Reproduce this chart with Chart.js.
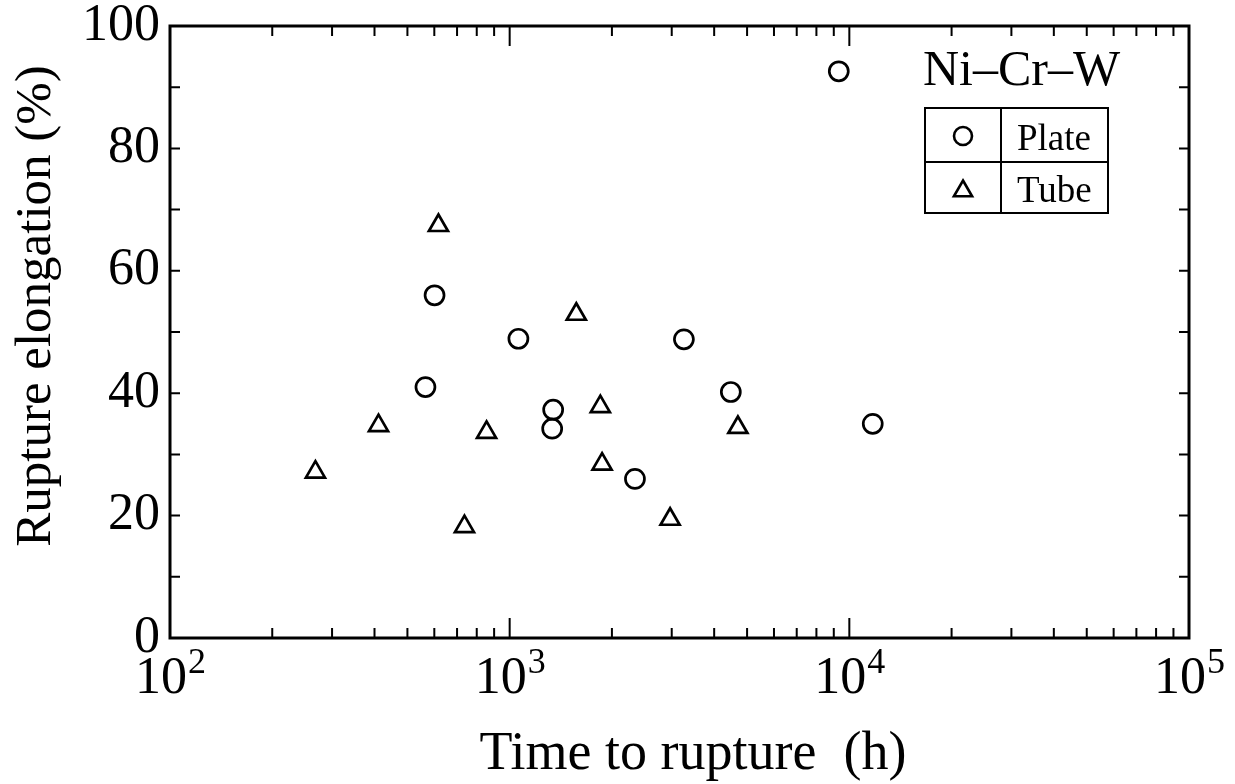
<!DOCTYPE html>
<html>
<head>
<meta charset="utf-8">
<script src="https://cdn.jsdelivr.net/npm/chart.js@4.4.1/dist/chart.umd.min.js"></script>
<style>
html,body{margin:0;padding:0;background:#fff;}
#wrap{width:1235px;height:784px;position:relative;}
</style>
</head>
<body>
<div id="wrap"><canvas id="c" width="1235" height="784"></canvas></div>
<script>
// ---- data ----
const plateTime  = [9310, 601, 565, 1061, 1343, 1334, 3258, 4478, 2338, 11720];
const plateElong = [92.6, 56.0, 41.0, 48.9, 37.3, 34.2, 48.8, 40.2, 26.0, 35.0];
const tubeTime   = [617, 1571, 1849, 411, 855, 1871, 268, 736, 2967, 4698];
const tubeElong  = [67.4, 52.9, 37.8, 34.7, 33.6, 28.4, 27.1, 18.2, 19.4, 34.4];
const xDecades   = [100, 1000, 10000, 100000];
const xExponents = ['2', '3', '4', '5'];
const yTicks     = [0, 20, 40, 60, 80, 100];
const seriesNames = ['Plate', 'Tube'];
const panelTitle = 'Ni\u2013Cr\u2013W';
const xTitle = 'Time to rupture  (h)';
const yTitle = 'Rupture elongation (%)';

const SERIF = '"Liberation Serif", "Times New Roman", serif';

const toPts = (xs, ys) => xs.map((x, i) => ({x: x, y: ys[i]}));

function zeroPad(s) { s.paddingTop = 0; s.paddingBottom = 0; s.paddingLeft = 0; s.paddingRight = 0; }

const decor = {
  id: 'decor',
  afterDraw(chart) {
    const ctx = chart.ctx;
    const a = chart.chartArea;
    const xs = chart.scales.x, ys = chart.scales.y;
    ctx.save();
    ctx.strokeStyle = '#000';
    ctx.fillStyle = '#000';
    // inward ticks
    ctx.lineWidth = 2;
    ctx.beginPath();
    for (let v = 10; v < 100; v += 10) {
      const py = ys.getPixelForValue(v);
      ctx.moveTo(a.left, py); ctx.lineTo(a.left + 10, py);
      ctx.moveTo(a.right, py); ctx.lineTo(a.right - 10, py);
    }
    for (let d = 0; d < xDecades.length - 1; d++) {
      for (let m = 1; m <= 9; m++) {
        const v = xDecades[d] * m;
        if (v === xDecades[0]) continue;
        const px = xs.getPixelForValue(v);
        const len = (m === 1) ? 20 : 10;
        ctx.moveTo(px, a.bottom); ctx.lineTo(px, a.bottom - len);
        ctx.moveTo(px, a.top); ctx.lineTo(px, a.top + len);
      }
    }
    ctx.stroke();
    // frame
    ctx.lineWidth = 3;
    ctx.strokeRect(a.left, a.top, a.right - a.left, a.bottom - a.top);

    // x tick labels 10^n
    const baseFont = '52px ' + SERIF, expFont = '36px ' + SERIF;
    xDecades.forEach((v, i) => {
      const px = xs.getPixelForValue(v);
      ctx.font = baseFont;
      const w1 = ctx.measureText('10').width;
      ctx.font = expFont;
      const w2 = ctx.measureText(xExponents[i]).width;
      const left = px - (w1 + w2) / 2;
      ctx.textAlign = 'left';
      ctx.textBaseline = 'alphabetic';
      ctx.font = baseFont;
      ctx.fillText('10', left, a.bottom + 55);
      ctx.font = expFont;
      ctx.fillText(xExponents[i], left + w1 + 1, a.bottom + 35);
    });

    // axis titles
    ctx.font = '54px ' + SERIF;
    ctx.textAlign = 'center';
    ctx.textBaseline = 'alphabetic';
    ctx.fillText(xTitle, 693, 769);
    ctx.save();
    ctx.translate(50, 306);
    ctx.rotate(-Math.PI / 2);
    ctx.font = '51px ' + SERIF;
    ctx.fillText(yTitle, 0, 0);
    ctx.restore();

    // panel title
    ctx.font = '50px ' + SERIF;
    ctx.textAlign = 'left';
    ctx.fillText(panelTitle, 923, 85);

    // legend table
    ctx.lineWidth = 2;
    ctx.strokeRect(925, 108, 183, 105);
    ctx.beginPath();
    ctx.moveTo(1001, 108); ctx.lineTo(1001, 213);
    ctx.moveTo(925, 162); ctx.lineTo(1108, 162);
    ctx.stroke();
    const ds = chart.data.datasets;
    const rows = [{y: 136, base: 150}, {y: 189, base: 202}];
    ds.forEach((d, i) => {
      ctx.fillStyle = 'rgba(0,0,0,0)';
      ctx.strokeStyle = '#000';
      ctx.lineWidth = 2.6;
      Chart.helpers.drawPoint(ctx, {
        pointStyle: d.pointStyle,
        radius: i === 0 ? 9 : 10.5,
        borderWidth: 2.6
      }, 963, rows[i].y + (i === 1 ? 2 : 0));
      ctx.font = '37px ' + SERIF;
      ctx.fillStyle = '#000';
      ctx.fillText(seriesNames[i], 1017, rows[i].base);
    });
    ctx.restore();
  }
};

new Chart(document.getElementById('c'), {
  type: 'scatter',
  data: {
    datasets: [
      {
        label: seriesNames[0],
        data: toPts(plateTime, plateElong),
        pointStyle: 'circle',
        pointRadius: 9.5,
        pointBorderWidth: 2.7,
        borderColor: '#000',
        backgroundColor: 'rgba(0,0,0,0)',
        pointHoverRadius: 9.5
      },
      {
        label: seriesNames[1],
        data: toPts(tubeTime, tubeElong),
        pointStyle: 'triangle',
        pointRadius: 11,
        pointBorderWidth: 2.7,
        borderColor: '#000',
        backgroundColor: 'rgba(0,0,0,0)',
        pointHoverRadius: 11
      }
    ]
  },
  options: {
    responsive: false,
    animation: false,
    events: [],
    layout: {padding: {top: 26, right: 46, left: 0, bottom: 0}},
    plugins: {legend: {display: false}, tooltip: {enabled: false}},
    scales: {
      x: {
        type: 'logarithmic',
        min: xDecades[0],
        max: xDecades[xDecades.length - 1],
        grid: {display: false, drawTicks: false},
        border: {display: false},
        ticks: {display: false},
        afterFit(s) { s.height = 146; zeroPad(s); }
      },
      y: {
        min: yTicks[0],
        max: yTicks[yTicks.length - 1],
        grid: {display: false, drawTicks: false},
        border: {display: false},
        ticks: {
          stepSize: 20,
          color: '#000',
          padding: 10,
          font: {family: SERIF, size: 52}
        },
        afterBuildTicks(s) { s.ticks = yTicks.map(v => ({value: v})); },
        afterFit(s) { s.width = 170; zeroPad(s); }
      }
    }
  },
  plugins: [decor]
});
</script>
</body>
</html>
